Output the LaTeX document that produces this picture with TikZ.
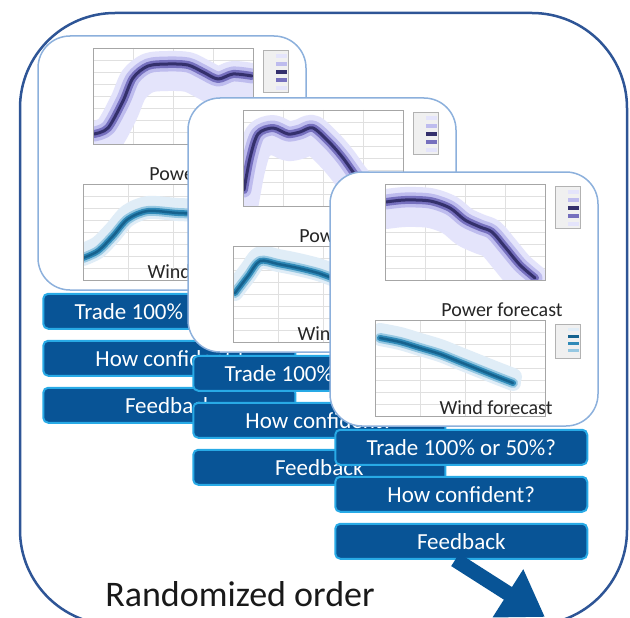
\documentclass[tikz,border=0pt]{standalone}
\usepackage{fontspec}
\setmainfont{Carlito}
\usetikzlibrary{positioning,arrows.meta}

\definecolor{frameblue}{RGB}{46,85,150}
\definecolor{cardedge}{RGB}{140,176,220}
\definecolor{btnfill}{RGB}{8,84,150}
\definecolor{btnedge}{RGB}{40,170,230}
\definecolor{powA}{RGB}{228,228,251}
\definecolor{powB}{RGB}{190,188,238}
\definecolor{powC}{RGB}{118,112,190}
\definecolor{powD}{RGB}{52,48,108}
\definecolor{windA}{RGB}{224,237,247}
\definecolor{windB}{RGB}{150,200,226}
\definecolor{windC}{RGB}{48,138,184}
\definecolor{windD}{RGB}{22,98,142}

\tikzset{
  frame/.style={draw=frameblue, line width=2.5pt, rounded corners=95pt},
  card/.style={draw=cardedge, line width=1.5pt, fill=white, rounded corners=32pt,
    minimum width=268pt, minimum height=254pt, inner sep=0pt},
  btn/.style={draw=btnedge, line width=2pt, fill=btnfill, text=white, rounded corners=5pt,
    minimum width=252pt, minimum height=35pt, inner sep=0pt,
    font=\fontsize{23}{23}\selectfont},
  plotlabel/.style={font=\fontsize{20}{20}\selectfont, text=black!85, inner sep=1pt},
  axisbox/.style={draw=black!35, line width=0.6pt},
  gridline/.style={draw=black!12, line width=0.5pt},
  legendbox/.style={draw=black!30, fill=black!6, line width=0.5pt},
  band/.style={line cap=round, line join=round},
  bigarrow/.style={draw=btnfill, line width=15pt, -{Triangle[length=44pt,width=54pt]}},
}

% fan bands, light to dark
\newcommand{\powerfan}[1]{%
  \draw[band,powA,line width=30pt,yshift=-12pt] plot[smooth] coordinates {#1};
  \foreach \w/\c in {26/powA,15/powB,8/powC,3/powD}
    \draw[band,\c,line width=\w pt] plot[smooth] coordinates {#1};}
\newcommand{\windfan}[1]{%
  \draw[band,windA,line width=18pt,yshift=6pt] plot[smooth] coordinates {#1};
  \foreach \w/\c in {16/windA,10/windB,6/windC,2.5/windD}
    \draw[band,\c,line width=\w pt] plot[smooth] coordinates {#1};}

% #1 name, #2 top left corner, #3 power curve, #4 wind curve
\newcommand{\forecastcard}[4]{%
\begin{scope}[shift={#2}]
  \node[card] (#1) at (134,127) {};
  % power plot
  \foreach \gx in {95,135,175} \draw[gridline] (\gx,12) -- (\gx,108);
  \foreach \gy in {24,36,...,96} \draw[gridline] (55,\gy) -- (215,\gy);
  \begin{scope}
    \clip (55,12) rectangle (215,108);
    \powerfan{#3}
  \end{scope}
  \draw[axisbox] (55,12) rectangle (215,108);
  \draw[legendbox] (225,14) rectangle (250,56);
  \foreach \c [count=\i] in {powA,powB,powD,powC,powA}
    \fill[\c] (238,{10+8*\i}) rectangle (249,{14+8*\i});
  \node[plotlabel] (#1-power) at (172,138) {Power forecast};
  % wind plot
  \foreach \gx in {90,135,180} \draw[gridline] (\gx,148) -- (\gx,244);
  \foreach \gy in {160,172,...,232} \draw[gridline] (45,\gy) -- (215,\gy);
  \begin{scope}
    \clip (45,148) rectangle (215,244);
    \windfan{#4}
  \end{scope}
  \draw[axisbox] (45,148) rectangle (215,244);
  \draw[legendbox] (225,152) rectangle (250,186);
  \foreach \c [count=\i] in {windA,windD,windC,windB}
    \fill[\c] (238,{149+7*\i}) rectangle (249,{152+7*\i});
  \node[plotlabel] (#1-wind) at (166,236) {Wind forecast};
\end{scope}
\node[btn, anchor=north west] (#1-trade) at ([xshift=5pt,yshift=-2pt]#1.south west) {Trade 100\% or 50\%?};
\node[btn, below=10pt of #1-trade] (#1-conf) {How confident?};
\node[btn, below=10pt of #1-conf] (#1-feed) {Feedback};
}

\begin{document}
\begin{tikzpicture}[x=1pt,y=-1pt]
\useasboundingbox (0,0) rectangle (630,618);
\clip (0,0) rectangle (630,618);
\draw[frame] (20,13) rectangle (627,625);

\forecastcard{c1}{(38,36)}
  {(56,98) (70,92) (85,65) (95,42) (110,30) (130,28) (150,29) (165,36) (180,43) (195,38) (214,40)}
  {(45,222) (60,215) (75,200) (90,183) (110,175) (140,177) (170,178) (200,180) (214,181)}
\forecastcard{c2}{(188,98)}
  {(56,92) (62,60) (70,36) (85,30) (100,36) (112,34) (125,30) (142,45) (155,60) (168,78) (180,92)}
  {(47,195) (60,178) (72,163) (90,166) (110,170) (130,175) (150,182) (170,186)}
\forecastcard{c3}{(330,172)}
  {(56,30) (75,28) (100,29) (120,36) (135,48) (150,55) (162,60) (175,75) (190,93) (205,106)}
  {(50,166) (70,170) (90,176) (110,182) (130,190) (150,198) (165,204) (183,211)}

\coordinate (arrowtip) at (545,617);
\draw[bigarrow] ([xshift=-6pt]c3-feed.south) -- (arrowtip);

\node[font=\fontsize{36}{36}\selectfont, text=black!90] (order) at (240,594) {Randomized order};
\end{tikzpicture}
\end{document}
